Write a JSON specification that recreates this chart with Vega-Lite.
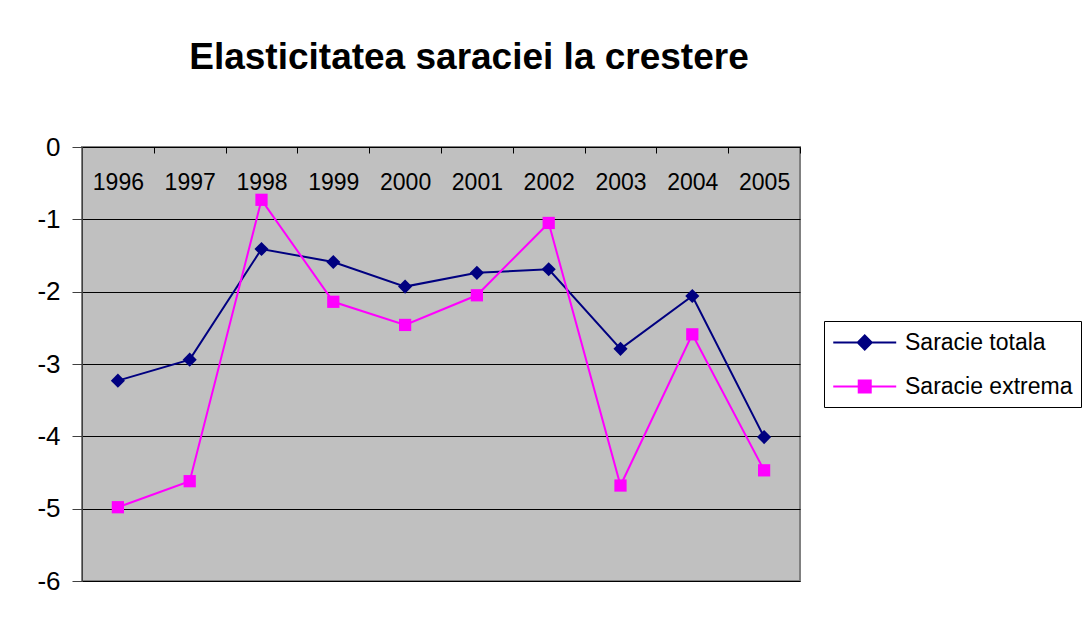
{
  "$schema": "https://vega.github.io/schema/vega-lite/v6.json",
  "width": 718,
  "height": 434,
  "autosize": "none",
  "padding": {"left": 82, "top": 147, "right": 287, "bottom": 42},
  "background": "white",
  "title": {
    "text": "Elasticitatea saraciei la crestere",
    "font": "Liberation Sans",
    "fontSize": 37,
    "fontWeight": "bold",
    "color": "black",
    "anchor": "middle",
    "dx": 28,
    "offset": 57
  },
  "config": {
    "view": {"fill": "#C0C0C0", "stroke": "#808080", "strokeWidth": 2},
    "font": "Liberation Sans"
  },
  "data": {
    "values": [
      {"an": "1996", "serie": "Saracie totala", "v": -3.23},
      {"an": "1997", "serie": "Saracie totala", "v": -2.94},
      {"an": "1998", "serie": "Saracie totala", "v": -1.41},
      {"an": "1999", "serie": "Saracie totala", "v": -1.59},
      {"an": "2000", "serie": "Saracie totala", "v": -1.93},
      {"an": "2001", "serie": "Saracie totala", "v": -1.74},
      {"an": "2002", "serie": "Saracie totala", "v": -1.69},
      {"an": "2003", "serie": "Saracie totala", "v": -2.79},
      {"an": "2004", "serie": "Saracie totala", "v": -2.06},
      {"an": "2005", "serie": "Saracie totala", "v": -4.01},
      {"an": "1996", "serie": "Saracie extrema", "v": -4.98},
      {"an": "1997", "serie": "Saracie extrema", "v": -4.62},
      {"an": "1998", "serie": "Saracie extrema", "v": -0.73},
      {"an": "1999", "serie": "Saracie extrema", "v": -2.14},
      {"an": "2000", "serie": "Saracie extrema", "v": -2.46},
      {"an": "2001", "serie": "Saracie extrema", "v": -2.05},
      {"an": "2002", "serie": "Saracie extrema", "v": -1.05},
      {"an": "2003", "serie": "Saracie extrema", "v": -4.68},
      {"an": "2004", "serie": "Saracie extrema", "v": -2.59},
      {"an": "2005", "serie": "Saracie extrema", "v": -4.47}
    ]
  },
  "encoding": {
    "x": {
      "field": "an",
      "type": "ordinal",
      "scale": {"paddingInner": 0, "paddingOuter": 0},
      "axis": {
        "orient": "top",
        "title": null,
        "labelAngle": 0,
        "labelFontSize": 23,
        "labelColor": "black",
        "labelBaseline": "middle",
        "labelPadding": -29,
        "tickSize": -6,
        "tickBand": "extent",
        "tickColor": "black",
        "domain": false,
        "grid": false
      }
    },
    "y": {
      "field": "v",
      "type": "quantitative",
      "scale": {"domain": [-6, 0], "nice": false, "zero": false},
      "axis": {
        "title": null,
        "values": [0, -1, -2, -3, -4, -5, -6],
        "labelExpr": "toString(datum.value)",
        "labelFontSize": 26,
        "labelColor": "black",
        "labelPadding": 12,
        "tickSize": 10,
        "tickColor": "#404040",
        "domainColor": "#404040",
        "domainWidth": 1,
        "grid": true,
        "gridColor": "black",
        "gridWidth": 1,
        "gridOpacity": 1
      }
    },
    "color": {
      "field": "serie",
      "type": "nominal",
      "scale": {"domain": ["Saracie totala", "Saracie extrema"], "range": ["#000080", "#FF00FF"]},
      "legend": {
        "title": null,
        "orient": "none",
        "legendX": 742,
        "legendY": 174,
        "direction": "vertical",
        "fillColor": "white",
        "strokeColor": "black",
        "padding": 8,
        "labelFontSize": 23,
        "labelColor": "black",
        "labelFont": "Liberation Sans",
        "labelLimit": 0,
        "symbolSize": 600,
        "symbolType": "M-1,0H4.14M1.0,0L1.57,-0.57L2.14,0L1.57,0.57Z",
        "rowPadding": 18,
        "labelOffset": 46,
        "encode": {
          "symbols": {
            "update": {
              "shape": {"signal": "datum.value == 'Saracie totala' ? 'M-1,0H4.14M1.0,0L1.57,-0.57L2.14,0L1.57,0.57Z' : 'M-1,0H4.14M1.08,-0.49H2.06V0.49H1.08Z'"},
              "fill": {"signal": "datum.value == 'Saracie totala' ? '#000080' : '#FF00FF'"},
              "stroke": {"signal": "datum.value == 'Saracie totala' ? '#000080' : '#FF00FF'"},
              "strokeWidth": {"value": 2},
              "opacity": {"value": 1}
            }
          }
        }
      }
    }
  },
  "layer": [
    {"mark": {"type": "line", "strokeWidth": 2}},
    {
      "transform": [{"filter": "datum.serie == 'Saracie totala'"}],
      "mark": {"type": "point", "shape": "diamond", "filled": true, "opacity": 1, "size": 200}
    },
    {
      "transform": [{"filter": "datum.serie == 'Saracie extrema'"}],
      "mark": {"type": "point", "shape": "square", "filled": true, "opacity": 1, "size": 150}
    }
  ]
}
